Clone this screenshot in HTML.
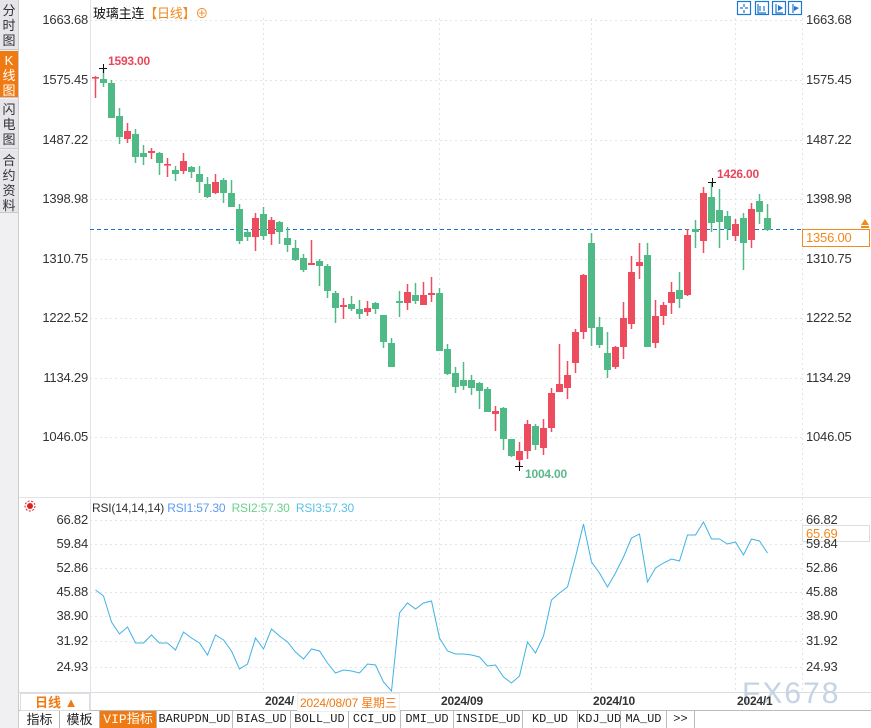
<!DOCTYPE html>
<html><head><meta charset="utf-8"><style>
*{margin:0;padding:0;box-sizing:border-box}
body{width:871px;height:728px;overflow:hidden;background:#fff;font-family:"Liberation Sans","Noto Sans CJK SC",sans-serif;position:relative}
.side{position:absolute;left:0;top:0;width:19px;height:728px;background:#f0f0f2;border-right:1px solid #ccc}
.tab{position:absolute;left:0;width:18px;font-size:13px;line-height:15px;text-align:center;color:#333;background:#e6e6ea;border-bottom:1px solid #c8c8cc}
.ax{position:absolute;font-size:13px;color:#333;letter-spacing:-0.2px}
.l{right:783px;text-align:right}
.r{left:806px}
.bt{position:absolute;top:711px;height:17px;font-size:12px;line-height:17px;text-align:center;border-right:1px solid #bbb;color:#222;font-family:"Liberation Mono","Noto Sans CJK SC",monospace}
</style></head><body>
<div class="side">
<div class="tab" style="top:0;height:50px;padding-top:3px">分<br>时<br>图</div>
<div class="tab" style="top:51px;height:47px;padding-top:2px;background:#f07a12;color:#fff">K<br>线<br>图</div>
<div class="tab" style="top:99px;height:50px;padding-top:3px">闪<br>电<br>图</div>
<div class="tab" style="top:150px;height:63px;padding-top:3px">合<br>约<br>资<br>料</div>
</div>
<svg width="871" height="728" style="position:absolute;left:0;top:0" id="sv">
<g stroke="#e4e4e4" stroke-dasharray="2,3" stroke-width="1">
<line x1="90" y1="20.5" x2="802" y2="20.5"/><line x1="90" y1="80.5" x2="802" y2="80.5"/><line x1="90" y1="140.5" x2="802" y2="140.5"/><line x1="90" y1="199.5" x2="802" y2="199.5"/><line x1="90" y1="259.5" x2="802" y2="259.5"/><line x1="90" y1="318.5" x2="802" y2="318.5"/><line x1="90" y1="378.5" x2="802" y2="378.5"/><line x1="90" y1="437.5" x2="802" y2="437.5"/>
<line x1="90" y1="520.5" x2="802" y2="520.5"/><line x1="90" y1="544.5" x2="802" y2="544.5"/><line x1="90" y1="568.5" x2="802" y2="568.5"/><line x1="90" y1="592.5" x2="802" y2="592.5"/><line x1="90" y1="616.5" x2="802" y2="616.5"/><line x1="90" y1="641.5" x2="802" y2="641.5"/><line x1="90" y1="667.5" x2="802" y2="667.5"/>
<line x1="263.5" y1="18" x2="263.5" y2="692"/><line x1="439.5" y1="18" x2="439.5" y2="692"/><line x1="591.5" y1="18" x2="591.5" y2="692"/><line x1="735.5" y1="18" x2="735.5" y2="692"/><line x1="802.5" y1="18" x2="802.5" y2="692"/>
</g>
<line x1="90.5" y1="0" x2="90.5" y2="711" stroke="#e0e4ea"/>
<line x1="19" y1="497.5" x2="871" y2="497.5" stroke="#e0e4ea"/>
<line x1="19" y1="692.5" x2="871" y2="692.5" stroke="#d8dde4"/>
<line x1="19" y1="710.5" x2="871" y2="710.5" stroke="#bbb"/>
<line x1="90" y1="229.5" x2="802" y2="229.5" stroke="#1a6fd8" stroke-dasharray="4,3"/>
<g id="cd"></g>
<polyline id="rsi" fill="none" stroke="#3fb2e6" stroke-width="1"/>
<g stroke="#111" stroke-width="1"><line x1="99" y1="68.5" x2="107" y2="68.5"/><line x1="103.5" y1="64" x2="103.5" y2="73"/>
<line x1="708" y1="182.5" x2="716" y2="182.5"/><line x1="712.5" y1="178" x2="712.5" y2="187"/>
<line x1="515" y1="466.5" x2="523" y2="466.5"/><line x1="519.5" y1="462" x2="519.5" y2="471"/></g>
<rect x="802.5" y="229.5" width="67" height="17" fill="#fff" stroke="#f08a1c"/>
<rect x="802.5" y="525.5" width="67" height="16" fill="#fff" stroke="#ddd"/>
<polygon points="865,219 869,225 861,225" fill="#f08a1c"/><rect x="861" y="226" width="8" height="2" fill="#f08a1c"/>
<g fill="none" stroke="#1e78d0" stroke-width="1.2">
<rect x="737.5" y="1.5" width="13" height="13"/><rect x="755.5" y="1.5" width="13" height="13"/><rect x="772.5" y="1.5" width="13" height="13"/><rect x="788.5" y="1.5" width="13" height="13"/>
<path d="M744 4v3M744 10v3M740 8h3M745 8h3M758 4v9h8M760 6v5M764 6v5M776 4v9h7M793 4v9"/></g>
<polygon points="778,5 783,8 778,11" fill="#1e78d0"/><polygon points="794,6 799,8 794,11" fill="#1e78d0"/>
<circle cx="30" cy="506" r="3" fill="#e02020"/><circle cx="30" cy="506" r="5" fill="none" stroke="#e02020" stroke-dasharray="2,1.5"/>
<text x="742" y="703" font-size="30" fill="#c5d3e4" font-family="Liberation Sans" letter-spacing="2">FX678</text>
</g>
</svg>
<div class="ax" style="left:93px;top:3px;color:#111">玻璃主连<span style="color:#f08a1c">【日线】⊕</span></div>
<div class="ax l" style="top:12px">1663.68</div><div class="ax l" style="top:72px">1575.45</div><div class="ax l" style="top:132px">1487.22</div><div class="ax l" style="top:191px">1398.98</div><div class="ax l" style="top:251px">1310.75</div><div class="ax l" style="top:310px">1222.52</div><div class="ax l" style="top:370px">1134.29</div><div class="ax l" style="top:429px">1046.05</div>
<div class="ax r" style="top:12px">1663.68</div><div class="ax r" style="top:72px">1575.45</div><div class="ax r" style="top:132px">1487.22</div><div class="ax r" style="top:191px">1398.98</div><div class="ax r" style="top:251px">1310.75</div><div class="ax r" style="top:310px">1222.52</div><div class="ax r" style="top:370px">1134.29</div><div class="ax r" style="top:429px">1046.05</div>
<div class="ax r" style="top:230px;color:#f08a1c">1356.00</div>
<div class="ax" style="left:108px;top:54px;color:#e8465a;font-weight:bold;font-size:12px">1593.00</div>
<div class="ax" style="left:717px;top:167px;color:#e8465a;font-weight:bold;font-size:12px">1426.00</div>
<div class="ax" style="left:525px;top:467px;color:#5cb88a;font-weight:bold;font-size:12px">1004.00</div>
<div class="ax" style="left:92px;top:501px;font-size:12px">RSI(14,14,14) <span style="color:#5b9cf0">RSI1:57.30</span> &nbsp;<span style="color:#6cd08e">RSI2:57.30</span> &nbsp;<span style="color:#5bc0e8">RSI3:57.30</span></div>
<div class="ax l" style="top:512px">66.82</div><div class="ax l" style="top:536px">59.84</div><div class="ax l" style="top:560px">52.86</div><div class="ax l" style="top:584px">45.88</div><div class="ax l" style="top:608px">38.90</div><div class="ax l" style="top:633px">31.92</div><div class="ax l" style="top:659px">24.93</div>
<div class="ax r" style="top:512px">66.82</div><div class="ax r" style="top:536px">59.84</div><div class="ax r" style="top:560px">52.86</div><div class="ax r" style="top:584px">45.88</div><div class="ax r" style="top:608px">38.90</div><div class="ax r" style="top:633px">31.92</div><div class="ax r" style="top:659px">24.93</div>
<div class="ax r" style="top:526px;color:#f08a1c">65.69</div>
<div style="position:absolute;left:20px;top:693px;width:70px;height:18px;border:1px solid #ddd;color:#f07a12;font-size:13px;font-weight:bold;line-height:17px;padding-left:14px">日线 ▲</div>
<div class="ax" style="left:265px;top:694px;font-size:12px;font-weight:bold;color:#333">2024/</div>
<div class="ax" style="left:297px;top:693px;font-size:12px;color:#f07a12;background:#fff;border:1px solid #eee;padding:0 2px">2024/08/07 星期三</div>
<div class="ax" style="left:441px;top:694px;font-size:12px;font-weight:bold;color:#333">2024/09</div>
<div class="ax" style="left:593px;top:694px;font-size:12px;font-weight:bold;color:#333">2024/10</div>
<div class="ax" style="left:737px;top:694px;font-size:12px;font-weight:bold;color:#333">2024/1</div>
<div class="bt" style="left:20px;width:40px;font-family:'Liberation Sans','Noto Sans CJK SC',sans-serif;font-size:13px">指标</div>
<div class="bt" style="left:60px;width:40px;font-family:'Liberation Sans','Noto Sans CJK SC',sans-serif;font-size:13px">模板</div>
<div class="bt" style="left:100px;width:57px;background:#f07a12;color:#fff;font-size:13px">VIP指标</div>
<div class="bt" style="left:157px;width:76px">BARUPDN_UD</div>
<div class="bt" style="left:233px;width:58px">BIAS_UD</div>
<div class="bt" style="left:291px;width:58px">BOLL_UD</div>
<div class="bt" style="left:349px;width:52px">CCI_UD</div>
<div class="bt" style="left:401px;width:53px">DMI_UD</div>
<div class="bt" style="left:454px;width:69px">INSIDE_UD</div>
<div class="bt" style="left:523px;width:55px">KD_UD</div>
<div class="bt" style="left:578px;width:43px">KDJ_UD</div>
<div class="bt" style="left:621px;width:46px">MA_UD</div>
<div class="bt" style="left:667px;width:28px">&gt;&gt;</div>
<script>
var D=[["r",77,78,76,98],["g",79,83,68,87],["g",83,118,80,118],["g",116,137,108,144],["r",131,139,123,143],["g",134,157,129,163],["g",153,157,145,165],["r",151,153,148,159],["g",153,163,152,175],["r",164,165,158,177],["g",170,174,166,181],["r",161,171,153,174],["g",167,172,166,178],["g",174,182,166,193],["g",184,197,177,198],["r",182,193,174,194],["g",180,193,178,203],["g",193,207,180,207],["g",209,241,204,244],["g",232,237,230,241],["r",218,237,213,251],["g",214,236,207,240],["r",220,234,217,245],["g",222,232,221,244],["g",238,245,227,252],["g",248,260,240,261],["g",258,270,254,272],["r",263,265,240,265],["g",261,266,259,286],["g",266,291,264,298],["g",293,308,291,323],["r",305,307,298,319],["g",304,309,296,311],["g",309,314,300,319],["r",308,312,301,316],["g",303,309,302,314],["g",315,342,315,348],["g",343,367,338,367],["g",301,303,291,317],["r",292,303,284,310],["g",295,301,283,304],["r",295,305,282,305],["r",293,295,277,302],["g",293,351,288,351],["g",349,374,344,375],["g",373,387,367,393],["g",380,386,362,390],["g",380,388,375,395],["g",383,391,382,409],["g",389,412,387,412],["r",411,414,406,431],["g",408,439,407,450],["g",439,456,439,457],["r",451,460,442,467],["r",424,451,420,459],["g",426,445,424,450],["r",428,448,419,455],["r",393,428,388,432],["r",384,392,344,392],["r",375,388,361,399],["r",332,363,329,373],["r",275,332,274,339],["g",243,328,233,346],["g",327,345,317,348],["g",353,370,332,378],["r",347,367,346,369],["r",318,347,302,359],["r",272,324,256,329],["r",262,266,243,279],["g",255,347,243,347],["r",316,343,300,348],["r",305,316,302,325],["r",292,303,282,314],["g",290,299,272,308],["r",235,295,229,296],["g",229,232,220,248],["r",193,241,187,253],["g",197,223,182,232],["g",210,222,189,248],["g",216,229,211,240],["r",224,236,219,241],["g",218,243,213,270],["r",209,240,203,248],["g",201,212,194,224],["g",218,230,204,231]];
var R=[590,596,622,634,627,643,643,635,643,643,650,632,638,643,655,635,640,651,669,664,638,649,629,636,642,652,659,649,651,663,673,670,671,673,664,665,682,691,613,603,609,603,601,638,651,654,654,655,657,666,665,677,683,676,642,653,636,600,593,587,557,524,562,573,587,573,557,538,534,582,568,563,559,561,535,535,522,539,539,544,542,555,539,541,553];
var ns="http://www.w3.org/2000/svg",g=document.getElementById("cd"),s="";
D.forEach(function(d,i){var x=95+8*i,c=d[0]=="g"?"#50ba86":"#ec4c5e";
s+='<line x1="'+(x+0.5)+'" y1="'+d[3]+'" x2="'+(x+0.5)+'" y2="'+d[4]+'" stroke="'+c+'" stroke-width="1.5"/>';
var h=Math.max(d[2]-d[1],1.6);s+='<rect x="'+(x-3)+'" y="'+d[1]+'" width="7" height="'+h+'" fill="'+c+'"/>';});
g.innerHTML=s;
document.getElementById("rsi").setAttribute("points",R.map(function(y,i){return (95.5+8*i)+","+y}).join(" "));
</script>
</body></html>
